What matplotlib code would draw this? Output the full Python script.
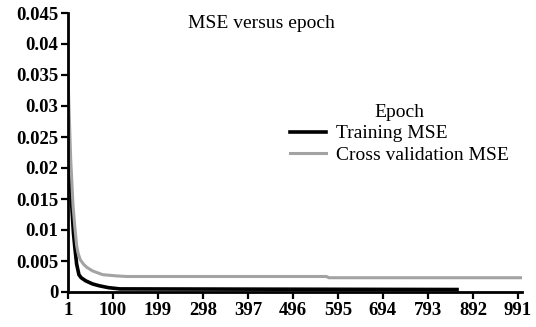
import matplotlib
matplotlib.use("Agg")
import matplotlib.pyplot as plt

plt.rcParams['font.family'] = ['Liberation Serif', 'DejaVu Serif']

# valores
epoca_treino = [1, 4, 7, 10, 13, 16, 20, 25, 30, 40, 55, 70, 90, 115, 857]
mse_treino = [0.028, 0.022, 0.017, 0.013, 0.0095, 0.0072, 0.0045, 0.0028,
              0.0023, 0.0018, 0.0013, 0.0010, 0.0007, 0.0005, 0.0004]

epoca_cv = [1, 3, 7, 12, 16, 20, 23, 28, 35, 42, 55, 77, 107, 130, 570, 575, 1000]
mse_cv = [0.035, 0.030, 0.0213, 0.014, 0.0105, 0.0075, 0.0063, 0.0052, 0.0045,
          0.0040, 0.0034, 0.0028, 0.0026, 0.0025, 0.0025, 0.0023, 0.0023]

xticks = [1, 100, 199, 298, 397, 496, 595, 694, 793, 892, 991]
yticks = [0, 0.005, 0.01, 0.015, 0.02, 0.025, 0.03, 0.035, 0.04, 0.045]
ylabels = ['0', '0.005', '0.01', '0.015', '0.02', '0.025', '0.03', '0.035', '0.04', '0.045']

fig = plt.figure(figsize=(5.36, 3.27), dpi=100)
ax = fig.add_axes([68/536, 1-292/327, (522-68)/536, (292-13)/327])

ax.plot(epoca_treino, mse_treino, color='black', lw=2.6, label='Training MSE')
ax.plot(epoca_cv, mse_cv, color='#a3a3a3', lw=2.2, label='Cross validation MSE')

ax.set_xlim(1, 1000)
ax.set_ylim(0, 0.045)
ax.set_xticks(xticks)
ax.set_xticklabels([str(t) for t in xticks], fontsize=13.5, fontweight='bold')
ax.set_yticks(yticks)
ax.set_yticklabels(ylabels, fontsize=13.5, fontweight='bold')
ax.tick_params(direction='out', length=5, width=1.6, pad=2)

ax.spines['top'].set_visible(False)
ax.spines['right'].set_visible(False)
ax.spines['left'].set_linewidth(2)
ax.spines['bottom'].set_linewidth(2)

ax.text(0.427, 0.964, 'MSE versus epoch', transform=ax.transAxes,
        ha='center', va='center', fontsize=14)

leg = ax.legend(title='Epoch', loc='upper left', bbox_to_anchor=(290/536, 1-104/327),
                bbox_transform=fig.transFigure, frameon=False, fontsize=14,
                title_fontsize=14, handlelength=1.85, handletextpad=0.5,
                labelspacing=0.2, borderpad=0, borderaxespad=0)

fig.savefig('out.png', dpi=100)
